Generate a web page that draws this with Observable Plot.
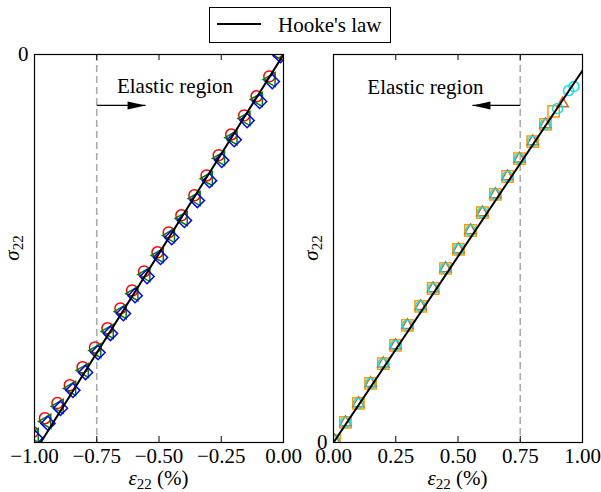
<!DOCTYPE html>
<html>
<head>
<meta charset="utf-8">
<script src="https://cdn.jsdelivr.net/npm/d3@7"></script>
<script src="https://cdn.jsdelivr.net/npm/@observablehq/plot@0.6"></script>
<style>
  body { margin: 0; background: #fff; }
  #root { position: relative; width: 601px; height: 492px; font-family: 'Liberation Serif', serif; overflow: hidden; }
  #plots { position: absolute; left: 0; top: 46px; display: flex; }
  #legend { position: absolute; left: 209px; top: 7px; width: 182px; height: 36px; border: 1.3px solid #000; box-sizing: border-box; background: #fff; }
  #legend .swatch { position: absolute; left: 7px; top: 15px; width: 44px; height: 2px; background: #000; }
  #legend .label { position: absolute; left: 68px; top: 7px; font-size: 21px; line-height: 21px; white-space: nowrap; }
</style>
</head>
<body>
<div id="root">
  <div id="plots"></div>
  <div id="legend"><div class="swatch"></div><div class="label">Hooke's law</div></div>
</div>
<script>
// ---------- tick values and labels ----------
const strainTicksLeft = [-1, -0.75, -0.5, -0.25, 0];
const strainTickLabelsLeft = ["−1.00", "−0.75", "−0.50", "−0.25", "0.00"];
const strainTicksRight = [0, 0.25, 0.5, 0.75, 1];
const strainTickLabelsRight = ["0.00", "0.25", "0.50", "0.75", "1.00"];
const stressTicks = [0];
const stressTickLabels = ["0"];

// ---------- Hooke's law (sigma = E * eps, E normalised) ----------
const hookeStrainLeft = [-1.05, 0];
const hookeStressLeft = [-1.05, 0];
const hookeStrainRight = [0, 1.05];
const hookeStressRight = [0, 1.05];

// ---------- elastic limit ----------
const elasticLimitLeft = [-0.75];
const elasticLimitRight = [0.75];

// ---------- compression panel series ----------
const redStrain = [-0.024, -0.057, -0.108, -0.158, -0.210, -0.260, -0.309, -0.358, -0.410, -0.461, -0.506, -0.560, -0.608, -0.655, -0.707, -0.757, -0.807, -0.858, -0.908, -0.958, -1.008];
const redStress = [0.005, -0.055, -0.105, -0.153, -0.201, -0.253, -0.304, -0.354, -0.404, -0.447, -0.497, -0.545, -0.593, -0.638, -0.688, -0.736, -0.786, -0.831, -0.876, -0.914, -0.949];
const greenStrain = [-0.017, -0.050, -0.101, -0.151, -0.203, -0.253, -0.302, -0.351, -0.403, -0.454, -0.499, -0.553, -0.601, -0.648, -0.700, -0.750, -0.800, -0.851, -0.901, -0.951, -1.001];
const greenStress = [0.002, -0.063, -0.113, -0.161, -0.209, -0.261, -0.312, -0.362, -0.412, -0.455, -0.505, -0.553, -0.601, -0.646, -0.696, -0.744, -0.794, -0.839, -0.884, -0.922, -0.957];
const blueStrain = [-0.012, -0.045, -0.096, -0.146, -0.198, -0.248, -0.297, -0.346, -0.398, -0.449, -0.494, -0.548, -0.596, -0.643, -0.695, -0.745, -0.795, -0.846, -0.896, -0.946, -0.996];
const blueStress = [-0.003, -0.068, -0.118, -0.166, -0.214, -0.266, -0.317, -0.367, -0.417, -0.460, -0.510, -0.558, -0.606, -0.651, -0.701, -0.749, -0.799, -0.844, -0.889, -0.927, -0.964];

// ---------- tension panel series ----------
const squareStrain = [0.005, 0.048, 0.100, 0.149, 0.200, 0.249, 0.297, 0.350, 0.400, 0.450, 0.502, 0.550, 0.598, 0.650, 0.699, 0.747, 0.800, 0.851, 0.884];
const squareStress = [0.005, 0.054, 0.105, 0.159, 0.212, 0.261, 0.315, 0.366, 0.414, 0.468, 0.519, 0.570, 0.618, 0.667, 0.715, 0.763, 0.809, 0.855, 0.890];
const triangleStrain = [0.005, 0.048, 0.100, 0.149, 0.200, 0.249, 0.297, 0.350, 0.400, 0.450, 0.502, 0.550, 0.598, 0.650, 0.699, 0.747, 0.800, 0.851, 0.920];
const triangleStress = [0.005, 0.054, 0.105, 0.159, 0.212, 0.261, 0.315, 0.366, 0.414, 0.468, 0.519, 0.570, 0.618, 0.667, 0.715, 0.763, 0.809, 0.855, 0.911];
const circleStrain = [0.005, 0.048, 0.100, 0.149, 0.200, 0.249, 0.297, 0.350, 0.400, 0.450, 0.502, 0.550, 0.598, 0.650, 0.699, 0.747, 0.800, 0.851, 0.900, 0.944, 0.966];
const circleStress = [0.005, 0.054, 0.105, 0.159, 0.212, 0.261, 0.315, 0.366, 0.414, 0.468, 0.519, 0.570, 0.618, 0.667, 0.715, 0.763, 0.809, 0.855, 0.898, 0.946, 0.957];

// ---------- annotations ----------
const noteText = ["Elastic region"];
const noteStrainLeft = [-0.436], noteStressLeft = [-0.081];
const noteStrainRight = [0.369], noteStressRight = [0.956];
const arrowFromLeft = [-0.75], arrowToLeft = [-0.554], arrowStressLeft = [-0.128];
const arrowFromRight = [0.75], arrowToRight = [0.558], arrowStressRight = [0.906];

const rows = (xs, ys) => xs.map((x, i) => ({x, y: ys[i]}));

function headSymbol(dir) {
  return {
    draw(ctx) {
      ctx.moveTo(0, 0);
      ctx.lineTo(-dir * 18, -4);
      ctx.lineTo(-dir * 18, 4);
      ctx.closePath();
    }
  };
}

const H = 446, MT = 8, MB = 50;
const FONT = "Liberation Serif";

function panel(cfg) {
  const frameW = cfg.width - cfg.marginLeft - cfg.marginRight;
  const frameH = H - MT - MB;
  const labelMap = new Map(cfg.xTicks.map((t, i) => [t, cfg.xLabels[i]]));
  const yLabelMap = new Map(stressTicks.map((t, i) => [t, stressTickLabels[i]]));
  const marks = [
    Plot.ruleX(cfg.limit, {x: d => d, stroke: "#ababab", strokeWidth: 1.6, strokeDasharray: "7,4"}),
    ...cfg.series.map(s => Plot.dot(rows(s.xs, s.ys), {
      x: "x", y: "y", symbol: s.symbol, r: s.r, rotate: s.rotate || 0,
      stroke: s.stroke, strokeWidth: 1.5, fill: "none", clip: true
    })),
    Plot.line(rows(cfg.hookeX, cfg.hookeY), {x: "x", y: "y", stroke: "#000", strokeWidth: 2, clip: true}),
    Plot.link(cfg.arrowFrom.map((a, i) => ({x1: a, x2: cfg.arrowTo[i], y: cfg.arrowY[i]})),
      {x1: "x1", x2: "x2", y1: "y", y2: "y", stroke: "#000", strokeWidth: 1.2}),
    Plot.dot(cfg.arrowTo.map((a, i) => ({x: a, y: cfg.arrowY[i]})),
      {x: "x", y: "y", symbol: headSymbol(cfg.dir), fill: "#000", stroke: "none", r: 5}),
    Plot.text(noteText.map((t, i) => ({t, x: cfg.noteX[i], y: cfg.noteY[i]})),
      {x: "x", y: "y", text: "t", fontSize: 21, fontFamily: FONT, textAnchor: "middle", lineAnchor: "middle", fill: "#000"}),
    Plot.frame({stroke: "#000", strokeWidth: 1.2}),
    Plot.tickX(cfg.xTicks, {x: d => d, insetTop: frameH - 6, stroke: "#000", strokeWidth: 1}),
    Plot.tickX(cfg.xTicks, {x: d => d, insetBottom: frameH - 6, stroke: "#000", strokeWidth: 1}),
    Plot.tickY(stressTicks, {y: d => d, insetRight: frameW - 6, stroke: "#000", strokeWidth: 1}),
    Plot.axisX(cfg.xTicks, {tickSize: 0, tickPadding: 6, tickFormat: d => labelMap.get(d), label: null, fontSize: 21, fontFamily: FONT, fill: "#000"}),
    Plot.axisY(stressTicks, {tickSize: 0, tickPadding: 6, tickFormat: d => yLabelMap.get(d), label: null, fontSize: 21, fontFamily: FONT, fill: "#000"})
  ];
  const svg = Plot.plot({
    width: cfg.width, height: H,
    marginTop: MT, marginBottom: MB, marginLeft: cfg.marginLeft, marginRight: cfg.marginRight,
    x: {domain: cfg.xDomain, label: null},
    y: {domain: cfg.yDomain, label: null},
    style: {background: "transparent", overflow: "visible", fontFamily: FONT, fontSize: "21px", color: "#000"},
    marks
  });
  const s = d3.select(svg);
  const cx = cfg.marginLeft + frameW / 2;
  const xl = s.append("text").attr("x", cx).attr("y", 439).attr("text-anchor", "middle")
    .attr("font-family", FONT).attr("font-size", 21).attr("fill", "#000");
  xl.append("tspan").attr("font-style", "italic").text("ε");
  xl.append("tspan").attr("font-size", 15).attr("dy", 4).text("22");
  xl.append("tspan").attr("dy", -4).text(" (%)");
  const yl = s.append("text").attr("transform", `translate(${cfg.marginLeft - 15},${MT + frameH / 2}) rotate(-90)`)
    .attr("text-anchor", "middle").attr("font-family", FONT).attr("font-size", 21).attr("fill", "#000");
  yl.append("tspan").attr("font-style", "italic").text("σ");
  yl.append("tspan").attr("font-size", 15).attr("dy", 4).text("22");
  return svg;
}

const left = panel({
  width: 300, marginLeft: 34, marginRight: 17,
  xDomain: [-1, 0], yDomain: [-0.975, 0],
  xTicks: strainTicksLeft, xLabels: strainTickLabelsLeft,
  limit: elasticLimitLeft,
  series: [
    {xs: redStrain, ys: redStress, symbol: "circle", r: 5.5, stroke: "#ff0000"},
    {xs: greenStrain, ys: greenStress, symbol: "triangle", r: 5.2, rotate: -90, stroke: "#008000"},
    {xs: blueStrain, ys: blueStress, symbol: "diamond2", r: 6.4, stroke: "#0000ff"}
  ],
  hookeX: hookeStrainLeft, hookeY: hookeStressLeft,
  arrowFrom: arrowFromLeft, arrowTo: arrowToLeft, arrowY: arrowStressLeft, dir: 1,
  noteX: noteStrainLeft, noteY: noteStressLeft
});

const right = panel({
  width: 301, marginLeft: 33, marginRight: 19,
  xDomain: [0, 1], yDomain: [0, 1.043],
  xTicks: strainTicksRight, xLabels: strainTickLabelsRight,
  limit: elasticLimitRight,
  series: [
    {xs: squareStrain, ys: squareStress, symbol: "square", r: 6.4, stroke: "#ff9a00"},
    {xs: triangleStrain, ys: triangleStress, symbol: "triangle", r: 4.2, stroke: "#d2691e"},
    {xs: circleStrain, ys: circleStress, symbol: "circle", r: 5, stroke: "#10e0e8"}
  ],
  hookeX: hookeStrainRight, hookeY: hookeStressRight,
  arrowFrom: arrowFromRight, arrowTo: arrowToRight, arrowY: arrowStressRight, dir: -1,
  noteX: noteStrainRight, noteY: noteStressRight
});

document.getElementById("plots").append(left, right);
</script>
</body>
</html>
